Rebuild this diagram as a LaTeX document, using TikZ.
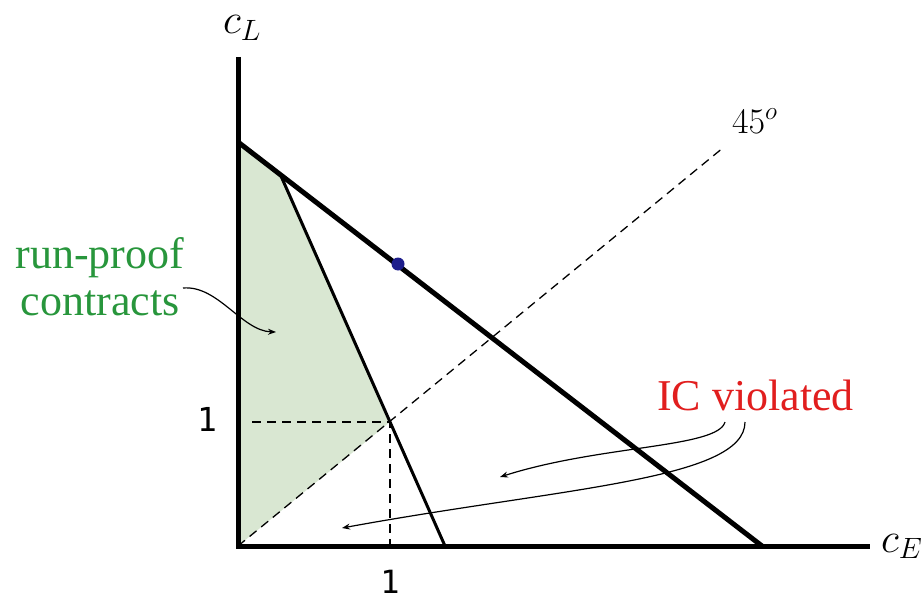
\documentclass[tikz,border=0pt]{standalone}
\usepackage{fix-cm}
\usepackage{fontspec}
\setmainfont{Liberation Serif}
\newfontfamily\monofnt{DejaVu Sans Mono}
\usetikzlibrary{arrows.meta}
\definecolor{shadegreen}{RGB}{217,231,210}
\definecolor{textgreen}{RGB}{40,150,60}
\definecolor{textred}{RGB}{225,30,30}
\definecolor{dotblue}{RGB}{30,30,140}
\tikzset{
  axisline/.style={line width=5pt},
  budgetline/.style={line width=5pt},
  icline/.style={line width=3pt},
  guideline/.style={line width=1.3pt, dash pattern=on 9pt off 6pt},
  pointer/.style={line width=1.2pt, -{Stealth[length=8pt,width=6pt]}},
  lbl/.style={inner sep=0pt},
}
\begin{document}
\begin{tikzpicture}[x=1pt,y=-1pt]
\useasboundingbox (0,0) rectangle (923,602);
% key points
\coordinate (O) at (238,546);
\coordinate (Ytop) at (238,57);
\coordinate (Xend) at (870,546);
\coordinate (B0) at (238,142);
\coordinate (B1) at (762,546);
\coordinate (T0) at (281,176);
\coordinate (T1) at (445,546);
\coordinate (P11) at (390,422);
\coordinate (D45) at (724,147);
\coordinate (H1) at (252,422);
% shading
\fill[shadegreen] (O) -- (B0) -- (T0) -- (P11) -- cycle;
% guides
\draw[guideline] (O) -- (D45);
\draw[guideline] (H1) -- (P11) -- (O -| P11);
% lines
\draw[budgetline] (B0) -- (B1);
\draw[icline] (T0) -- (T1);
\draw[axisline, line cap=butt] (Ytop) -- (O) -- (Xend);
% dot
\fill[dotblue] (398,264) circle (6.5pt);
% labels
\node[lbl, font=\fontsize{42}{46}\selectfont, anchor=base west] (cL) at (223,34) {$c_L$};
\node[lbl, font=\fontsize{42}{46}\selectfont, anchor=base west] (cE) at (881,552) {$c_E$};
\node[lbl, font=\fontsize{36}{40}\selectfont, anchor=base west] (deg) at (732,133) {$45^o$};
\node[lbl, font=\monofnt\fontsize{33}{38}\selectfont] (one1) at (207,419) {1};
\node[lbl, font=\monofnt\fontsize{32}{36}\selectfont] (one2) at (390,582) {1};
\node[lbl, font=\fontsize{44}{47}\selectfont, text=textgreen, align=center] (rp) at (100,277) {run-proof\\contracts};
\node[lbl, font=\fontsize{44}{47}\selectfont, text=textred, anchor=base west] (ic) at (657,410) {IC violated};
% pointers
\coordinate (rpS) at (183,288);
\coordinate (rpE) at (276,332);
\draw[pointer] (rpS) .. controls (218,285) and (242,331) .. (rpE);
\coordinate (icS1) at (725,422);
\coordinate (icE1) at (500,477);
\draw[pointer] (icS1) .. controls (718,448) and (600,445) .. (icE1);
\coordinate (icS2) at (745,422);
\coordinate (icE2) at (342,528);
\draw[pointer] (icS2) .. controls (745,480) and (560,488) .. (icE2);
\end{tikzpicture}
\end{document}
